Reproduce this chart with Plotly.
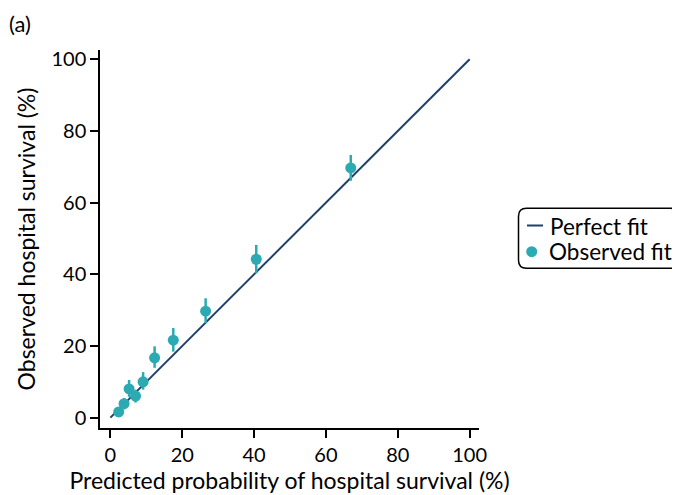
import plotly.graph_objects as go

# Data
pred = [2.3, 3.8, 5.2, 7.0, 9.1, 12.3, 17.5, 26.5, 40.6, 66.9]
obs = [1.6, 3.9, 8.0, 6.0, 10.0, 16.7, 21.6, 29.7, 44.2, 69.7]
err_up = [1.2, 1.6, 2.5, 1.8, 2.7, 3.2, 3.4, 3.6, 4.0, 3.6]
err_down = [1.2, 1.6, 2.2, 1.8, 2.2, 2.8, 3.2, 3.4, 3.9, 3.6]
fit_x = [0, 100]
fit_y = [0, 100]
ticks = [0, 20, 40, 60, 80, 100]
legend_labels = ["Perfect fit", "Observed fit"]

teal = "#2BAAB1"
navy = "#1F3F6E"
font = "Lato, 'DejaVu Sans', sans-serif"

# the page body has an 8px margin; lay out in window pixels and shift
OFF = 8
W, H = 680 - OFF, 495 - OFF

fig = go.Figure()
fig.add_trace(go.Scatter(
    x=fit_x, y=fit_y, mode="lines", name=legend_labels[0],
    line=dict(color=navy, width=2), showlegend=False,
))
fig.add_trace(go.Scatter(
    x=pred, y=obs, mode="markers", name=legend_labels[1],
    marker=dict(color=teal, size=11),
    error_y=dict(type="data", symmetric=False, array=err_up, arrayminus=err_down,
                 color=teal, thickness=2.5, width=0),
    showlegend=False,
))

# plot area in window pixels
PL, PR, PT, PB = 100, 479, 50, 428
L, T = PL - OFF, PT - OFF
R = W - (PR - OFF)
B = H - (PB - OFF)
pw = PR - PL
ph = PB - PT

def px_x(p):
    return (p - PL) / pw

def px_y(p):
    return (PB - p) / ph

# Rounded legend box
x0, x1 = px_x(518.5), px_x(678.5)
y0, y1 = px_y(268.3), px_y(208.3)
rx = 8 / pw
ry = 8 / ph
path = (f"M {x0+rx},{y1} L {x1-rx},{y1} Q {x1},{y1} {x1},{y1-ry} "
        f"L {x1},{y0+ry} Q {x1},{y0} {x1-rx},{y0} "
        f"L {x0+rx},{y0} Q {x0},{y0} {x0},{y0+ry} "
        f"L {x0},{y1-ry} Q {x0},{y1} {x0+rx},{y1} Z")
fig.add_shape(type="path", path=path, xref="paper", yref="paper",
              line=dict(color="black", width=1.5), fillcolor="rgba(0,0,0,0)")

# Legend symbols
fig.add_shape(type="line", xref="paper", yref="paper",
              x0=px_x(527), x1=px_x(543), y0=px_y(225.5), y1=px_y(225.5),
              line=dict(color=navy, width=2))
fig.add_shape(type="circle", xref="paper", yref="paper",
              x0=px_x(526.2), x1=px_x(537.2), y0=px_y(257.2), y1=px_y(246.2),
              line=dict(color=teal, width=0), fillcolor=teal)
fig.add_annotation(text=legend_labels[0], xref="paper", yref="paper",
                   x=px_x(548), y=px_y(226.5), xanchor="left", yanchor="middle",
                   showarrow=False, font=dict(size=22.5, color="black", family=font))
fig.add_annotation(text=legend_labels[1], xref="paper", yref="paper",
                   x=px_x(547), y=px_y(251.5), xanchor="left", yanchor="middle",
                   showarrow=False, font=dict(size=22.5, color="black", family=font))

fig.add_annotation(text="(a)", xref="paper", yref="paper",
                   x=px_x(7), y=px_y(23.5), xanchor="left", yanchor="middle",
                   showarrow=False, font=dict(size=22, color="black", family=font))

axis_common = dict(
    range=[-2.9, 102.6], tickvals=ticks, ticks="outside", ticklen=8,
    tickwidth=1.5, tickcolor="black", showline=True, linecolor="black",
    linewidth=1.5, showgrid=False, zeroline=False, automargin=False,
    tickfont=dict(size=20, color="black", family=font),
)

fig.update_layout(
    width=W, height=H,
    margin=dict(l=L, r=R, t=T, b=B),
    plot_bgcolor="white", paper_bgcolor="white",
    font=dict(family=font, color="black"),
    xaxis=dict(**axis_common,
               title=dict(text="Predicted probability of hospital survival (%)",
                          font=dict(size=23, family=font), standoff=6)),
    yaxis=dict(**axis_common,
               title=dict(text="Observed hospital survival (%)",
                          font=dict(size=23, family=font), standoff=9)),
    showlegend=False,
)

fig.write_html("out.html")
